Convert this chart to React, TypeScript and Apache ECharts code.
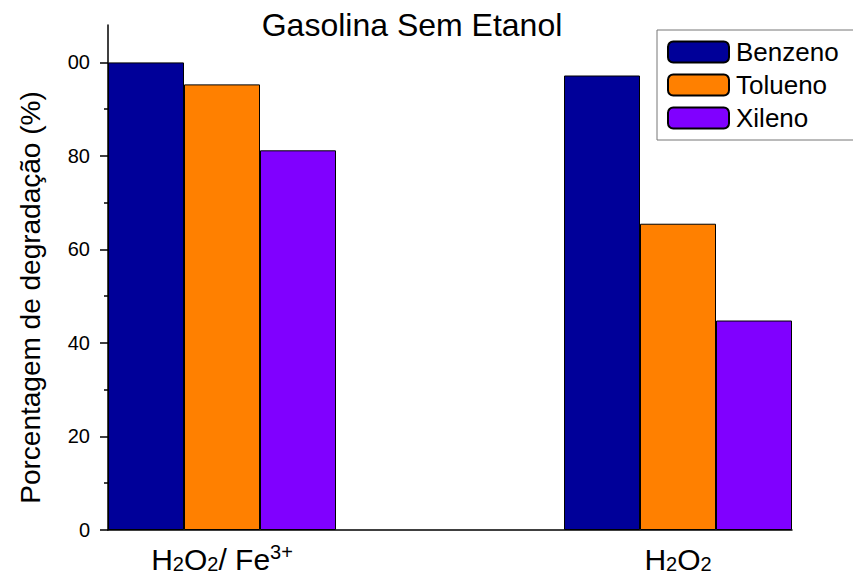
import React, { useEffect, useRef } from "react";
import * as echarts from "echarts";

const categories = ["H2O2/Fe3+", "", "H2O2"];
const seriesNames = ["Benzeno", "Tolueno", "Xileno"];
const benzeno = [100, null, 97.2];
const tolueno = [95.3, null, 65.5];
const xileno = [81.2, null, 44.8];
const colors = ["#000099", "#FF8000", "#8000FF"];
const yMajorTicks = [0, 20, 40, 60, 80, 100];
const yMinorTicks = [10, 30, 50, 70, 90];

export default function App() {
  const ref = useRef<HTMLDivElement>(null);
  useEffect(() => {
    document.body.style.margin = "0";
    document.body.style.overflow = "hidden";
    if (!ref.current) return;
    const chart = echarts.init(ref.current, null, { renderer: "svg" });
    const font = "Liberation Sans, Arial, sans-serif";
    const values = [benzeno, tolueno, xileno];
    chart.setOption({
      animation: false,
      textStyle: { fontFamily: font },
      title: {
        text: "Gasolina Sem Etanol",
        left: 407,
        textAlign: "center",
        top: 4,
        textStyle: { fontSize: 32, fontWeight: "normal", color: "#000", fontFamily: font },
      },
      legend: {
        left: 657,
        top: 30,
        orient: "vertical",
        itemWidth: 61,
        itemHeight: 21,
        itemGap: 5,
        padding: [8, 24, 8, 10],
        borderColor: "#777",
        borderWidth: 1,
        textStyle: { fontSize: 26, lineHeight: 28, color: "#000", fontFamily: font, padding: [0, 0, 0, 2] },
        data: seriesNames,
      },
      grid: { left: 108, right: 61, top: 25, bottom: 47, containLabel: false },
      xAxis: {
        type: "category",
        data: categories,
        axisLine: { lineStyle: { color: "#000", width: 1.5 } },
        axisTick: { alignWithLabel: true, interval: 0, length: 4, lineStyle: { color: "#000", width: 1.5 } },
        axisLabel: {
          interval: 0,
          margin: 12,
          color: "#000",
          fontSize: 30,
          formatter: (v: string) => {
            if (v === "H2O2/Fe3+") return "{a|H}{s|2}{a|O}{s|2}{a|/ Fe}{p|3+}";
            if (v === "H2O2") return "{a|H}{s|2}{a|O}{s|2}";
            return "";
          },
          rich: {
            a: { fontSize: 30, color: "#000", fontFamily: font, verticalAlign: "bottom", lineHeight: 32 },
            s: { fontSize: 20, color: "#000", fontFamily: font, verticalAlign: "bottom", lineHeight: 12 },
            p: { fontSize: 20, color: "#000", fontFamily: font, verticalAlign: "top", lineHeight: 20 },
          },
        },
      },
      yAxis: [
        {
          type: "value",
          min: 0,
          max: 108,
          interval: 20,
          name: "Porcentagem de degradação (%)",
          nameLocation: "middle",
          nameGap: 64,
          nameTextStyle: { fontSize: 28, color: "#000", fontFamily: font, padding: [0, 40, 0, 0] },
          axisLine: { show: true, lineStyle: { color: "#000", width: 1.5 } },
          axisTick: { show: true, length: 8, customValues: yMajorTicks, lineStyle: { color: "#000", width: 1.5 } },
          axisLabel: {
            customValues: yMajorTicks,
            margin: 18,
            color: "#000",
            fontSize: 20,
            formatter: (v: number) => (v === 100 ? "00" : String(v)),
          },
          splitLine: { show: false },
        },
        {
          type: "value",
          min: 0,
          max: 108,
          position: "left",
          axisLine: { show: false },
          axisTick: { show: true, length: 4, customValues: yMinorTicks, lineStyle: { color: "#000", width: 1.5 } },
          axisLabel: { show: false, customValues: yMinorTicks },
          splitLine: { show: false },
        },
      ],
      series: seriesNames.map((name, i) => ({
        name,
        type: "bar",
        yAxisIndex: 0,
        data: values[i],
        barGap: "0%",
        barCategoryGap: "0%",
        itemStyle: { color: colors[i], borderColor: "#000", borderWidth: 1 },
      })),
    });
    return () => chart.dispose();
  }, []);
  return <div ref={ref} style={{ width: 853, height: 577 }} />;
}
